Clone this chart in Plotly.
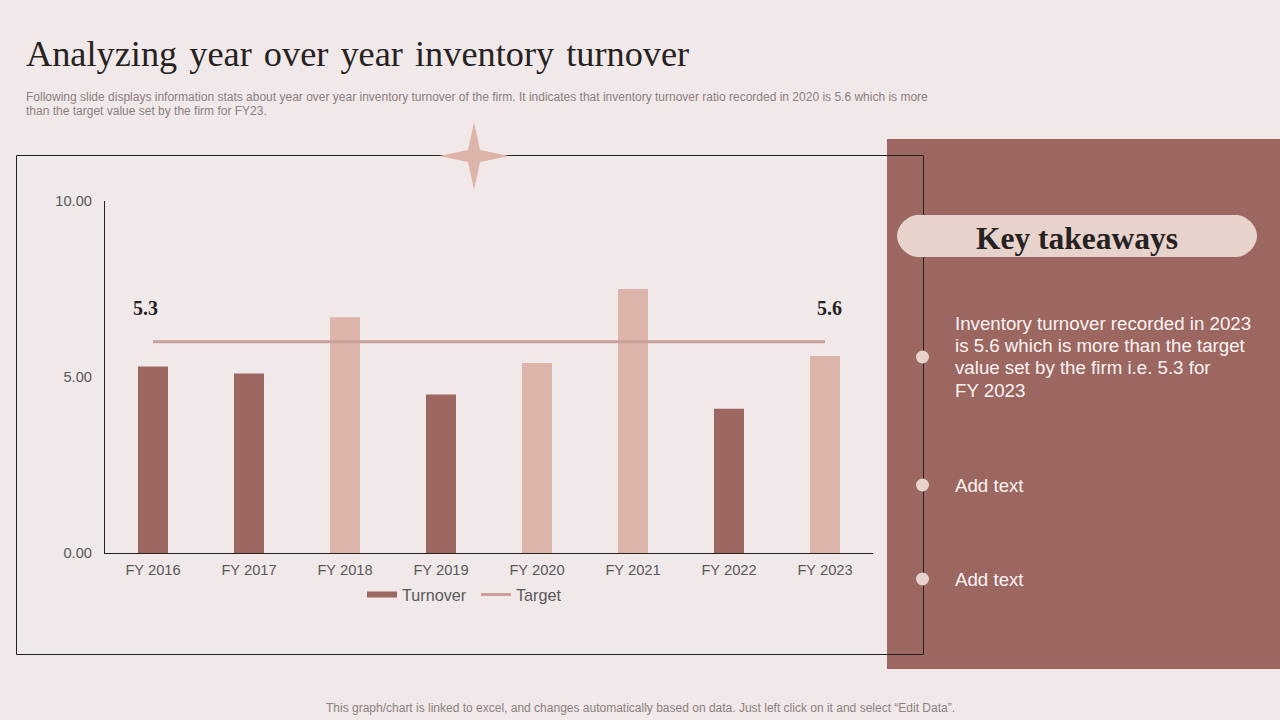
import plotly.graph_objects as go

years = ["FY 2016", "FY 2017", "FY 2018", "FY 2019", "FY 2020", "FY 2021", "FY 2022", "FY 2023"]
turnover = [5.3, 5.1, 6.7, 4.5, 5.4, 7.5, 4.1, 5.6]
target = [6, 6, 6, 6, 6, 6, 6, 6]
y_ticks = [0, 5, 10]
target_labels = ["5.3", "5.6"]
takeaway_lines = [
    "Inventory turnover recorded in 2023",
    "is 5.6 which is more than the target",
    "value set by the firm i.e. 5.3 for",
    "FY 2023",
]

BG = "#F1E8E9"
DARK_BAR = "#9C6661"
LIGHT_BAR = "#DDB4AA"
PILL = "#E8D2CC"
LINE = "#C9A09A"
INK = "#262222"
GREY = "#595959"
SANS = "Liberation Sans"
SERIF = "Liberation Serif"
W, H = 1280, 720


# everything on the slide is placed in pixels, these turn them into paper coords
def px(x):
    return x / W


def py(y):
    return 1 - y / H


def text(x, y, s, size, color, font=SANS, anchor="left", bold=False):
    # annotations carry 2px of padding, take it back on left aligned text
    if anchor == "left":
        x -= 2
    fig.add_annotation(
        xref="paper", yref="paper", x=px(x), y=py(y), text=f"<b>{s}</b>" if bold else s,
        showarrow=False, xanchor=anchor, yanchor="middle",
        font=dict(family=font, size=size, color=color),
    )


def rect(x0, y0, x1, y1, fill=None, line=None):
    fig.add_shape(
        type="rect", xref="paper", yref="paper", layer="below",
        x0=px(x0), y0=py(y0), x1=px(x1), y1=py(y1),
        fillcolor=fill or "rgba(0,0,0,0)",
        line=dict(color=line or "rgba(0,0,0,0)", width=1),
    )


def path(points, fill):
    fig.add_shape(type="path", xref="paper", yref="paper", layer="below", path=points,
                  fillcolor=fill, line=dict(width=0))


fig = go.Figure()

bar_colors = [DARK_BAR, DARK_BAR, LIGHT_BAR, DARK_BAR, LIGHT_BAR, LIGHT_BAR, DARK_BAR, LIGHT_BAR]
fig.add_trace(go.Bar(x=years, y=turnover, width=0.3125, marker=dict(color=bar_colors, line=dict(width=0)),
                     showlegend=False))
# empty line trace only so the legend gets the flat swatch
fig.add_trace(go.Scatter(x=[None], y=[None], mode="lines", name="Turnover",
                         line=dict(color=DARK_BAR, width=6)))
fig.add_trace(go.Scatter(x=years, y=target, mode="lines", name="Target",
                         line=dict(color=LINE, width=3)))

rect(887, 139, 1280, 669, fill=DARK_BAR)
# half pixels keep the 1px frame crisp
rect(16.5, 155.5, 923.5, 654.5, line=INK)

# star on the frame
cx, cy = 474, 156
star = [(cx - 35, cy), (cx - 6, cy - 6), (cx, cy - 34), (cx + 6, cy - 6), (cx + 35, cy),
        (cx + 6, cy + 6), (cx, cy + 34), (cx - 6, cy + 6)]
path("M" + " L".join(f"{px(a)},{py(b)}" for a, b in star) + " Z", LIGHT_BAR)

# pill behind the heading
x0, x1, y0, y1, r = 897, 1257, 215, 257, 21
path(
    f"M{px(x0 + r)},{py(y0)} L{px(x1 - r)},{py(y0)} "
    f"C{px(x1 - r / 2)},{py(y0)} {px(x1)},{py(y0 + r / 2)} {px(x1)},{py(y0 + r)} "
    f"C{px(x1)},{py(y1 - r / 2)} {px(x1 - r / 2)},{py(y1)} {px(x1 - r)},{py(y1)} "
    f"L{px(x0 + r)},{py(y1)} "
    f"C{px(x0 + r / 2)},{py(y1)} {px(x0)},{py(y1 - r / 2)} {px(x0)},{py(y1 - r)} "
    f"C{px(x0)},{py(y0 + r / 2)} {px(x0 + r / 2)},{py(y0)} {px(x0 + r)},{py(y0)} Z",
    PILL,
)

for dot_y in [357, 485, 579]:
    fig.add_shape(type="circle", xref="paper", yref="paper", layer="below", fillcolor=PILL,
                  x0=px(916), x1=px(929), y0=py(dot_y + 6.5), y1=py(dot_y - 6.5), line=dict(width=0))

# hair space widens the word gaps like the slide title
title_words = ["Analyzing", "year", "over", "year", "inventory", "turnover"]
text(26, 54, "\u200a ".join(title_words), 36.3, INK, font=SERIF)
text(26, 97, "Following slide displays information stats about year over year inventory turnover of the firm. "
             "It indicates that inventory turnover ratio recorded in 2020 is 5.6 which is more", 12, "#8C8080")
text(26, 111, "than the target value set by the firm for FY23.", 12, "#8C8080")
text(640, 708, "This graph/chart is linked to excel, and changes automatically based on data. "
               "Just left click on it and select “Edit Data”.", 12, "#8C8080", anchor="center")

text(145, 308, target_labels[0], 20, INK, font=SERIF, anchor="center", bold=True)
text(829, 308, target_labels[1], 20, INK, font=SERIF, anchor="center", bold=True)

text(1077, 239, "Key takeaways", 31.5, INK, font=SERIF, anchor="center", bold=True)
for i, line in enumerate(takeaway_lines):
    text(955, 323.5 + i * 22.2, line, 18.7, "#FBF3F1")
text(955, 485, "Add text", 18.7, "#FBF3F1")
text(955, 579, "Add text", 18.7, "#FBF3F1")

fig.update_layout(
    width=W, height=H, autosize=False,
    paper_bgcolor=BG, plot_bgcolor=BG,
    margin=dict(l=0, r=0, t=0, b=0, autoexpand=False),
    font=dict(family=SANS, size=14, color=GREY),
    legend=dict(orientation="h", xanchor="left", x=px(362), yanchor="middle", y=py(595),
                font=dict(size=16.2, color=GREY), bgcolor="rgba(0,0,0,0)", itemwidth=30,
                entrywidth=69),
    xaxis=dict(domain=[px(105), px(873)], showline=True, linecolor=INK, linewidth=1, showgrid=False,
               ticks="", tickfont=dict(size=14.7, color=GREY), ticklabelstandoff=3),
    yaxis=dict(domain=[py(553), py(201)], range=[0, 10], tickvals=y_ticks, tickformat=".2f",
               showline=True, linecolor=INK, linewidth=1, showgrid=False, zeroline=False,
               ticks="", tickfont=dict(size=14.7, color=GREY), ticklabelstandoff=9),
)

# page default margin would shift the slide by 8px
fig.write_html("out.html", config={"displayModeBar": False},
               post_script="document.body.style.margin='0';")
